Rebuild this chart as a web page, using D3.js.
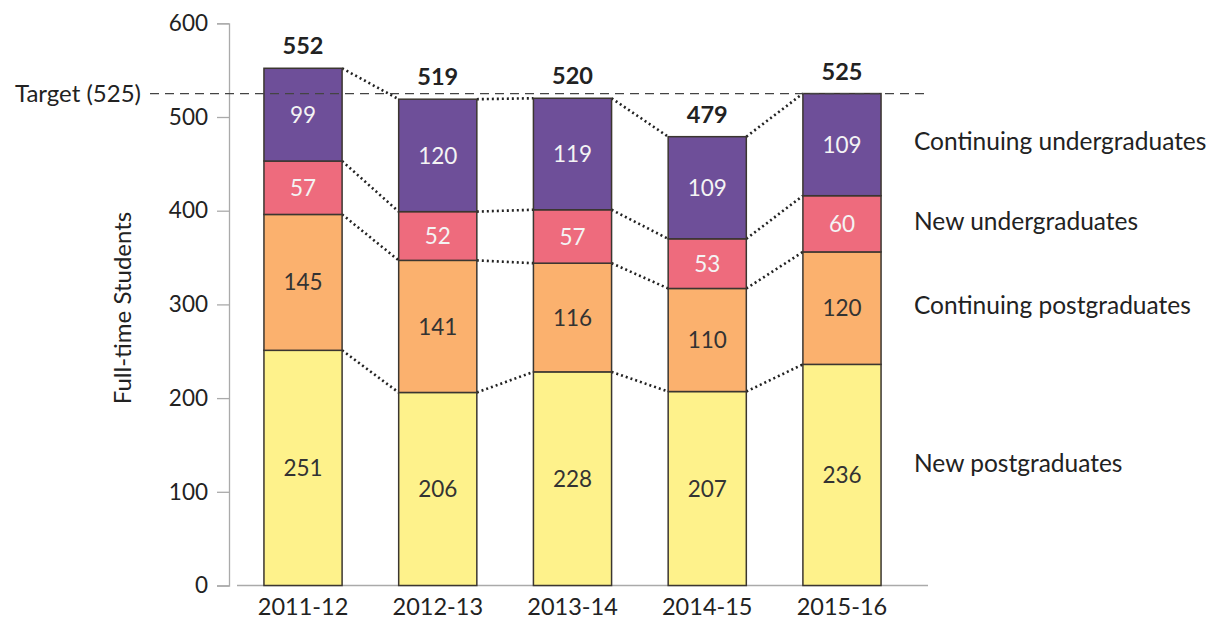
<!DOCTYPE html>
<html>
<head>
<meta charset="utf-8">
<title>Full-time Students</title>
<script src="https://d3js.org/d3.v7.min.js"></script>
<style>
  body { margin: 0; background: #fff; }
  text { font-family: Lato, "Open Sans", sans-serif; }
</style>
</head>
<body>
<div id="chart"></div>
<script>
// data
var years = ["2011-12", "2012-13", "2013-14", "2014-15", "2015-16"];
var seriesNames = ["New postgraduates", "Continuing postgraduates", "New undergraduates", "Continuing undergraduates"];
var newPG = [251, 206, 228, 207, 236];
var contPG = [145, 141, 116, 110, 120];
var newUG = [57, 52, 57, 53, 60];
var contUG = [99, 120, 119, 109, 109];
var yTicks = [0, 100, 200, 300, 400, 500, 600];
var target = 525;

var colors = ["#fef28b", "#fbb16e", "#ee6b7d", "#6e4f99"];
var textColors = ["#333", "#333", "#f4f4f4", "#f4f4f4"];

var rows = years.map(function(y, i) {
  return { year: y, np: newPG[i], cp: contPG[i], nu: newUG[i], cu: contUG[i] };
});
var keys = ["np", "cp", "nu", "cu"];
var stacked = d3.stack().keys(keys)(rows);

var width = 1215, height = 623;
var svg = d3.select("#chart").append("svg")
  .attr("width", width).attr("height", height);

var x = d3.scaleBand().domain(years).range([237, 908]).paddingInner(0.42).paddingOuter(0.2);
var y = d3.scaleLinear().domain([0, 600]).range([585.5, 23.3]);

// y axis
var yAxis = svg.append("g").attr("transform", "translate(229,0)")
  .call(d3.axisLeft(y).tickValues(yTicks).tickSize(12).tickPadding(9));
yAxis.select(".domain").attr("stroke", "#aaa").attr("stroke-width", 1.3);
yAxis.selectAll(".tick line").attr("stroke", "#aaa").attr("stroke-width", 1.3);
yAxis.selectAll(".tick text").attr("font-size", 22.5).attr("fill", "#222")
  .style("font-family", "Lato, 'Open Sans', sans-serif");

// x axis
var xAxis = svg.append("g").attr("transform", "translate(0," + y(0) + ")")
  .call(d3.axisBottom(x).tickSize(0).tickPadding(13));
xAxis.select(".domain").attr("d", "M237,0H928").attr("stroke", "#aaa").attr("stroke-width", 1.3);
xAxis.selectAll(".tick text").attr("font-size", 23.5).attr("fill", "#222")
  .style("font-family", "Lato, 'Open Sans', sans-serif");

// y title
svg.append("text")
  .attr("transform", "translate(131," + 308 + ") rotate(-90)")
  .attr("text-anchor", "middle")
  .attr("font-size", 24).attr("fill", "#222")
  .text("Full-time Students");

// connectors
var dotted = d3.line();
stacked.forEach(function(layer) {
  for (var i = 0; i < years.length - 1; i++) {
    svg.append("path")
      .attr("d", dotted([[x(years[i]) + x.bandwidth(), y(layer[i][1])], [x(years[i + 1]), y(layer[i + 1][1])]]))
      .attr("stroke", "#222").attr("stroke-width", 2.6)
      .attr("stroke-dasharray", "2,3").attr("fill", "none");
  }
});

// bars
var layers = svg.selectAll(".layer").data(stacked).enter().append("g")
  .attr("class", "layer");
layers.selectAll("rect").data(function(d) { return d; }).enter().append("rect")
  .attr("x", function(d) { return x(d.data.year); })
  .attr("y", function(d) { return y(d[1]); })
  .attr("width", x.bandwidth())
  .attr("height", function(d) { return y(d[0]) - y(d[1]); })
  .attr("fill", function(d, i, n) { return colors[keys.indexOf(d3.select(n[i].parentNode).datum().key)]; })
  .attr("stroke", "#3b3630").attr("stroke-width", 1.5);

layers.each(function(layer, li) {
  d3.select(this).selectAll("text").data(layer).enter().append("text")
    .attr("x", function(d) { return x(d.data.year) + x.bandwidth() / 2; })
    .attr("y", function(d) { return (y(d[0]) + y(d[1])) / 2; })
    .attr("dy", "0.36em")
    .attr("text-anchor", "middle")
    .attr("font-size", 22.5)
    .attr("fill", textColors[li])
    .text(function(d) { return d[1] - d[0]; });
});

// target line
svg.append("line")
  .attr("x1", 150).attr("x2", 926)
  .attr("y1", y(target)).attr("y2", y(target))
  .attr("stroke", "#444").attr("stroke-width", 1.3)
  .attr("stroke-dasharray", "9,6");
svg.append("text")
  .attr("x", 141).attr("y", y(target)).attr("dy", "0.36em")
  .attr("text-anchor", "end").attr("font-size", 24).attr("fill", "#222")
  .text("Target (" + target + ")");

// totals
var last = stacked[stacked.length - 1];
svg.selectAll(".total").data(last).enter().append("text")
  .attr("class", "total")
  .attr("x", function(d) { return x(d.data.year) + x.bandwidth() / 2; })
  .attr("y", function(d) { return y(d[1]) - 14; })
  .attr("text-anchor", "middle")
  .attr("font-size", 23.5).attr("font-weight", "bold").attr("fill", "#222")
  .text(function(d) { return d[1]; });

// legend labels next to last bar
var li = years.length - 1;
svg.selectAll(".legend").data(stacked).enter().append("text")
  .attr("class", "legend")
  .attr("x", 914)
  .attr("y", function(d) { return (y(d[li][0]) + y(d[li][1])) / 2 - (d.index === 0 ? 12 : 3); })
  .attr("dy", "0.36em")
  .attr("font-size", 24.5).attr("fill", "#222")
  .text(function(d) { return seriesNames[d.index]; });
</script>
</body>
</html>
